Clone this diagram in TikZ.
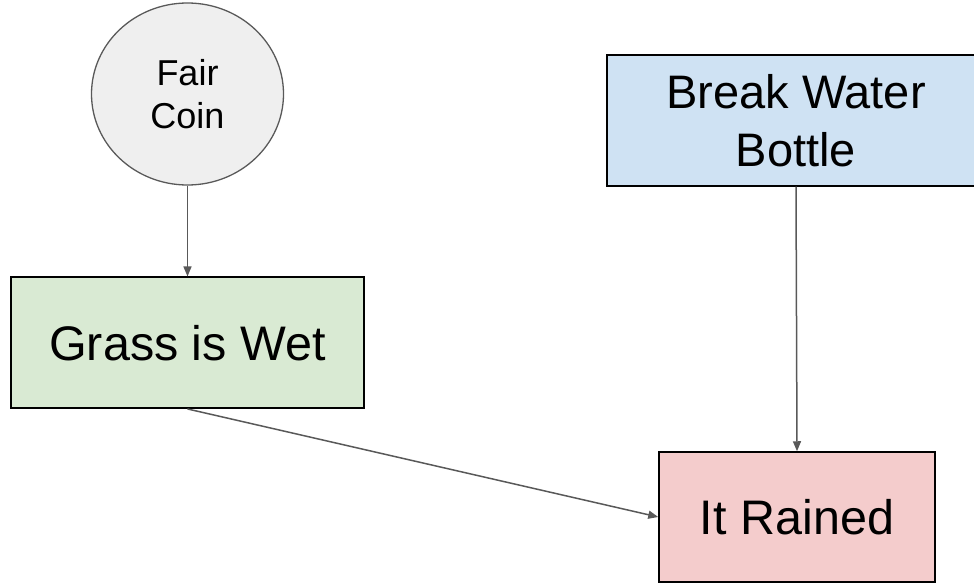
\documentclass[tikz,border=0pt]{standalone}
\usepackage{fontspec}
\setmainfont{Liberation Sans}
\usetikzlibrary{arrows.meta,shapes.geometric}
\definecolor{coinfill}{HTML}{EFEFEF}
\definecolor{edgegray}{HTML}{595959}
\definecolor{grassfill}{HTML}{D9EAD3}
\definecolor{bottlefill}{HTML}{CFE2F3}
\definecolor{rainfill}{HTML}{F4CCCC}
\tikzset{
  box/.style={draw=black, line width=1.5pt, rectangle, inner sep=0pt, align=center,
    font=\fontsize{47}{58}\selectfont},
  bigtext/.style={font=\fontsize{48.5}{58}\selectfont},
  coin/.style={draw=edgegray, line width=1.3pt, ellipse, fill=coinfill, inner sep=0pt,
    minimum width=192pt, minimum height=182pt, align=center,
    font=\fontsize{36}{43}\selectfont},
  link/.style={draw=edgegray, line width=1.5pt, -{Triangle[length=10pt,width=8pt]}}
}
\begin{document}
\begin{tikzpicture}[x=1pt,y=-1pt]
  \useasboundingbox (0,0) rectangle (974,583);
  \begin{scope}
    \clip (0,0) rectangle (974,583);
    \node[coin] (coin) at (187.5,94) {Fair\\Coin};
    \node[box, bigtext, fill=grassfill, minimum width=353pt, minimum height=131pt] (grass) at (187.5,342.7) {Grass is Wet};
    \node[box, fill=bottlefill, minimum width=378pt, minimum height=131pt] (bottle) at (796,120.3) {Break Water\\Bottle};
    \node[box, bigtext, fill=rainfill, minimum width=276pt, minimum height=130pt] (rain) at (797,517) {It Rained};
    \draw[link] (coin.south) -- (grass.north);
    \draw[link] (bottle.south) -- (rain.north);
    \draw[link] (grass.south) -- (rain.west);
  \end{scope}
\end{tikzpicture}
\end{document}
